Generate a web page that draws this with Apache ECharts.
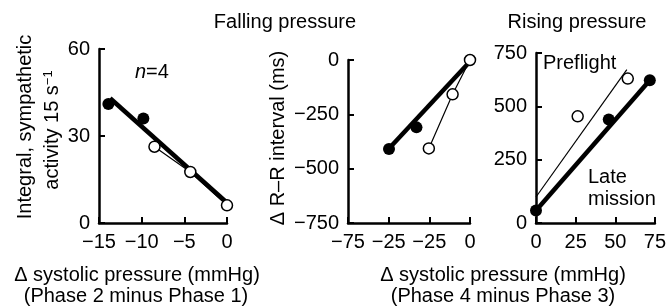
<!DOCTYPE html>
<html>
<head>
<meta charset="utf-8">
<script src="https://cdn.jsdelivr.net/npm/echarts@6/dist/echarts.min.js"></script>
<style>
  html, body { margin: 0; padding: 0; background: #fff; }
  #chart { width: 669px; height: 307px; }
</style>
</head>
<body>
<div id="chart"></div>
<script>
// 数据：[x, y]
var leftFilled = [[-13.9, 41], [-9.8, 36]];
var leftOpen = [[-8.5, 26.3], [-4.3, 17.6], [0, 6.1]];
var leftFit = [[-13.7, 43], [0, 7]];

var midFilled = [[-49.8, -410], [-32.9, -310]];
var midOpen = [[-25.3, -407], [-10.7, -158], [0, 0]];
var midFit = [[-49.5, -405], [-1, -15]];
var midXLabels = ['−75', '−25', '−25', '0'];

var rightPreflight = [[26.3, 453], [57.9, 630]];
var rightLate = [[0, 12], [45.9, 438], [71.8, 622]];
var rightPreFit = [[0, 75], [57.3, 672]];
var rightLateFit = [[0, 12], [71.8, 622]];
var rightYTicks = [-47, 250, 500, 750];

var FONT = '"Liberation Sans", Arial, sans-serif';
var myChart = echarts.init(document.getElementById('chart'));

function minus(v) {
    return String(v).replace('-', '−');
}

var axisCommon = {
    axisLine: {onZero: false, lineStyle: {color: '#000', width: 2.5}},
    axisTick: {inside: true, length: 6, lineStyle: {color: '#000', width: 2}},
    splitLine: {show: false},
    axisLabel: {color: '#000', fontSize: 20, fontFamily: FONT, margin: 9, formatter: minus}
};

function makeAxis(idx, min, max, interval, extra) {
    return echarts.util.merge({
        type: 'value', gridIndex: idx, min: min, max: max, interval: interval
    }, echarts.util.merge(echarts.util.clone(axisCommon), extra || {}, true), true);
}

var thick = function (idx, data) {
    return {type: 'line', xAxisIndex: idx, yAxisIndex: idx, data: data, symbol: 'none',
        lineStyle: {color: '#000', width: 4.5}, clip: false, silent: true};
};
var thin = function (idx, data) {
    return {type: 'line', xAxisIndex: idx, yAxisIndex: idx, data: data, symbol: 'none',
        lineStyle: {color: '#000', width: 1.2}, clip: false, silent: true};
};
var dots = function (idx, data, open) {
    return {type: 'scatter', xAxisIndex: idx, yAxisIndex: idx, data: data, symbolSize: open ? 11 : 12,
        itemStyle: open ? {color: '#fff', borderColor: '#000', borderWidth: 1.5, opacity: 1}
                        : {color: '#000', opacity: 1},
        clip: false, silent: true, z: 5};
};

function txt(x, y, text, opts) {
    return {type: 'text', x: x, y: y, rotation: (opts && opts.rot) || 0, silent: true,
        style: echarts.util.merge({text: text, fill: '#000', fontSize: 20, fontFamily: FONT,
            align: 'center', verticalAlign: 'middle'}, (opts && opts.style) || {}, true)};
}

option = {
    animation: false,
    backgroundColor: '#fff',
    grid: [
        {left: 99, top: 49, width: 128, height: 174},
        {left: 348, top: 60, width: 122, height: 163},
        {left: 536, top: 53, width: 121, height: 170}
    ],
    xAxis: [
        makeAxis(0, -15, 0, 5),
        makeAxis(1, -75, 0, 25, {axisLabel: {formatter: function (v, i) { return midXLabels[i]; }}}),
        makeAxis(2, 0, 75, 25)
    ],
    yAxis: [
        makeAxis(0, 0, 60, 30),
        makeAxis(1, -750, 0, 250),
        makeAxis(2, -47, 750, null, {
            axisTick: {customValues: rightYTicks},
            axisLabel: {customValues: rightYTicks, formatter: function (v) { return v < 0 ? '0' : String(v); }}
        })
    ],
    graphic: [
        txt(285, 22, 'Falling pressure'),
        txt(577, 22, 'Rising pressure'),
        txt(25, 127, 'Integral, sympathetic', {rot: Math.PI / 2}),
        txt(52, 130, '{a|activity 15 s}{s|−1}', {rot: Math.PI / 2, style: {rich: {
            a: {fontSize: 20, fontFamily: FONT, fill: '#000'},
            s: {fontSize: 13, fontFamily: FONT, fill: '#000', verticalAlign: 'top', padding: [0, 0, 8, 0]}
        }}}),
        txt(278, 138, 'Δ R–R interval (ms)', {rot: Math.PI / 2}),
        txt(135, 72, '{i|n}=4', {style: {align: 'left', rich: {
            i: {fontSize: 20, fontFamily: FONT, fontStyle: 'italic', fill: '#000'}
        }}}),
        txt(543, 63, 'Preflight', {style: {align: 'left'}}),
        txt(588, 177, 'Late', {style: {align: 'left'}}),
        txt(588, 199, 'mission', {style: {align: 'left'}}),
        txt(137, 275, 'Δ systolic pressure (mmHg)'),
        txt(136, 296, '(Phase 2 minus Phase 1)'),
        txt(503, 275, 'Δ systolic pressure (mmHg)'),
        txt(503, 296, '(Phase 4 minus Phase 3)')
    ],
    series: [
        thick(0, leftFit),
        thin(0, leftOpen),
        dots(0, leftFilled, false),
        dots(0, leftOpen, true),

        thick(1, midFit),
        thin(1, midOpen),
        dots(1, midFilled, false),
        dots(1, midOpen, true),

        thin(2, rightPreFit),
        thick(2, rightLateFit),
        dots(2, rightPreflight, true),
        dots(2, rightLate, false)
    ]
};
myChart.setOption(option);
</script>
</body>
</html>
